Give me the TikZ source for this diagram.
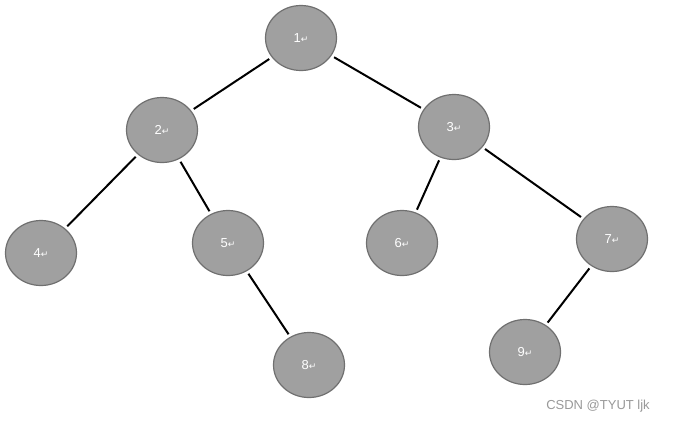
\documentclass[tikz,border=0pt]{standalone}
\usepackage{fontspec}
\setmainfont{Liberation Sans}
\newfontfamily\arrfont{DejaVu Sans}
\usetikzlibrary{shapes.geometric}
\definecolor{nfill}{HTML}{A0A0A0}
\definecolor{nline}{HTML}{707070}
\begin{document}
\begin{tikzpicture}[x=1pt,y=-1pt,
  tn/.style={ellipse,draw=nline,line width=1.2pt,fill=nfill,minimum width=71pt,minimum height=65pt,inner sep=0pt,text=white,font=\fontsize{13}{13}\selectfont},
  ed/.style={line width=2pt,shorten <=3pt,shorten >=3pt}]
\useasboundingbox (0,0) rectangle (684,426);
\fill[white] (0,0) rectangle (684,426);
\newcommand{\lbl}[1]{#1{\arrfont\fontsize{9}{9}\selectfont ↵}}
\node[tn] (n1) at (301,38) {\lbl{1}};
\node[tn] (n2) at (162,130) {\lbl{2}};
\node[tn] (n3) at (454,127) {\lbl{3}};
\node[tn] (n4) at (41,253) {\lbl{4}};
\node[tn] (n5) at (228,243) {\lbl{5}};
\node[tn] (n6) at (402,243) {\lbl{6}};
\node[tn] (n7) at (612,239) {\lbl{7}};
\node[tn] (n8) at (309,365) {\lbl{8}};
\node[tn] (n9) at (525,352) {\lbl{9}};
\draw[ed] (n1) -- (n2);
\draw[ed] (n1) -- (n3);
\draw[ed] (n2) -- (n4);
\draw[ed] (n2) -- (n5);
\draw[ed] (n5) -- (n8);
\draw[ed] (n3) -- (n6);
\draw[ed] (n3) -- (n7);
\draw[ed] (n7) -- (n9);
\node[text=gray!80,font=\fontsize{13}{13}\selectfont] (wm) at (598,406) {CSDN @TYUT ljk};
\end{tikzpicture}
\end{document}
